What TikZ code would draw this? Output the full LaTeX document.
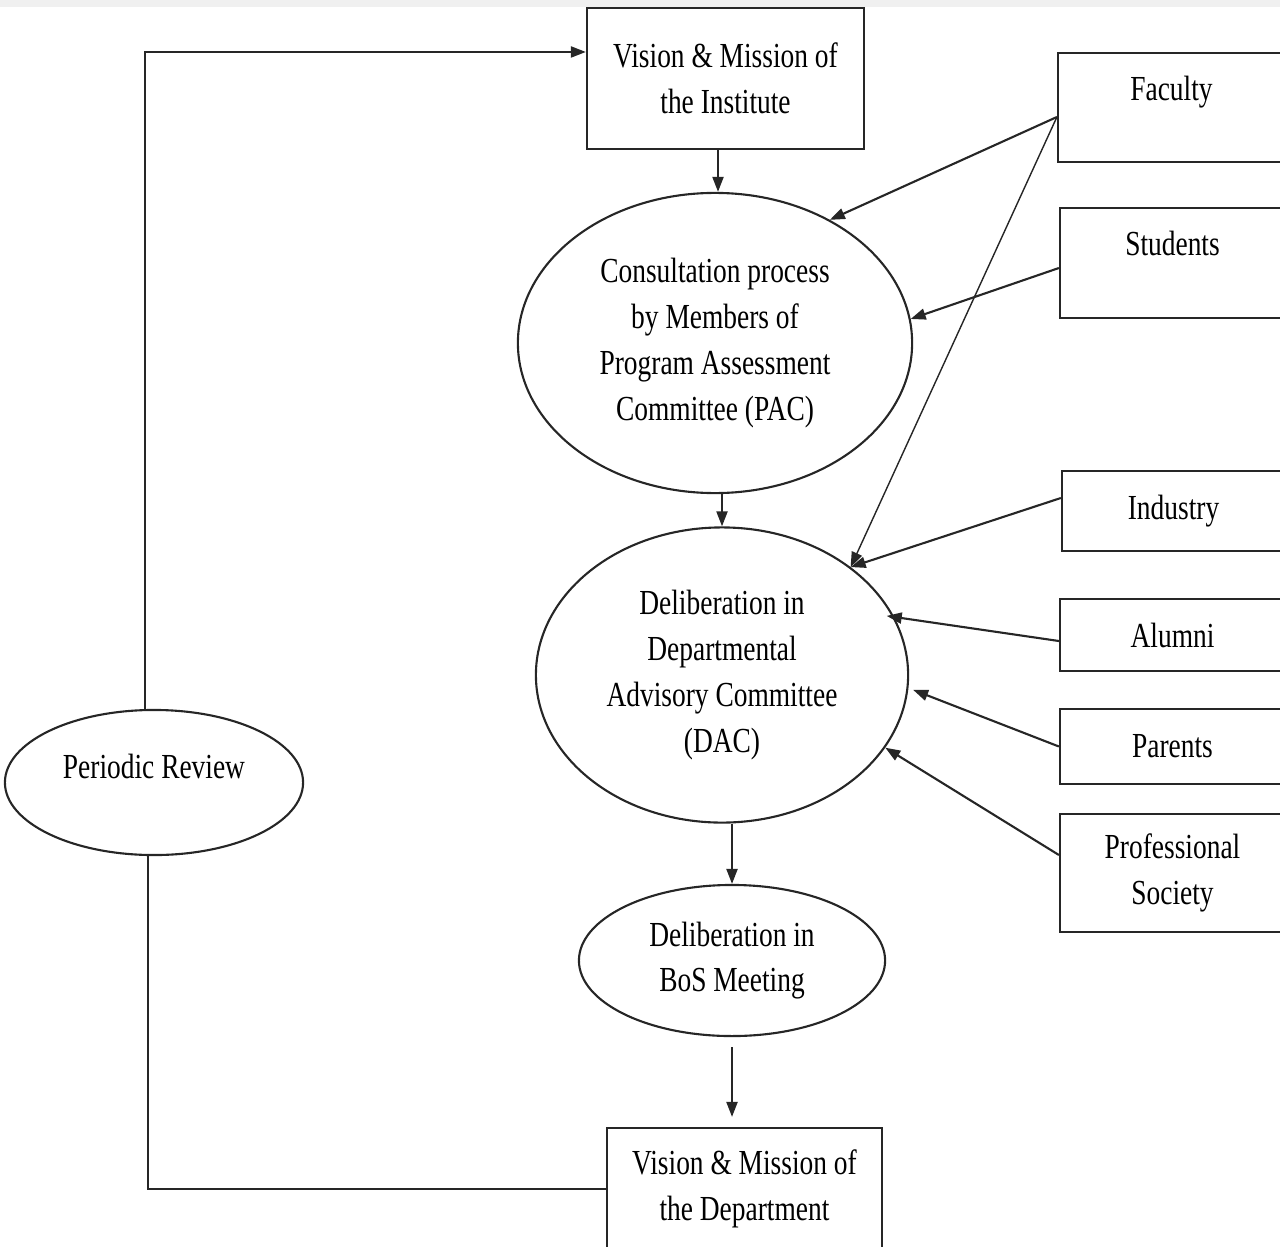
\documentclass[tikz,border=0pt]{standalone}
\usepackage{fontspec}
\setmainfont{Liberation Serif}[FakeStretch=0.78]
\usetikzlibrary{arrows.meta,shapes.geometric}
\begin{document}
\begin{tikzpicture}[x=0.01cm, y=-0.01cm, >={Triangle[length=0.15cm,width=0.11cm]},
every node/.style={font=\fontsize{10}{13}\selectfont, align=center, inner sep=0pt},
box/.style={draw=black!85, line width=0.6pt, rectangle},
oval/.style={draw=black!85, line width=0.6pt, ellipse},
arr/.style={->, line width=0.6pt, draw=black!85}]
\useasboundingbox (0,0) rectangle (1280,1246);
\clip (0,0) rectangle (1280,1246);
\fill[black!6] (0,0) rectangle (1280,7);
% main column
\node[box, minimum width=2.77cm, minimum height=1.41cm] (inst) at (725.5,78.5) {Vision \& Mission of\\the Institute};
\node[oval, minimum width=3.94cm, minimum height=3.0cm] (pac) at (715,343) {Consultation process\\by Members of\\Program Assessment\\Committee (PAC)};
\node[oval, minimum width=3.72cm, minimum height=2.95cm] (dac) at (722,675) {Deliberation in\\Departmental\\Advisory Committee\\(DAC)};
\node[oval, minimum width=3.06cm, minimum height=1.51cm] (bos) at (732,960.5) {Deliberation in\\BoS Meeting};
\node[box, minimum width=2.75cm, minimum height=1.22cm] (dept) at (744.5,1189) {Vision \& Mission of\\the Department};
\node[oval, minimum width=2.98cm, minimum height=1.45cm] (review) at (154,782.5) {Periodic Review\\[-4pt]~};
% stakeholders
\node[box, minimum width=2.27cm, minimum height=1.09cm] (faculty) at (1171.5,107.5) {Faculty\\[-2pt]~};
\node[box, minimum width=2.25cm, minimum height=1.10cm] (students) at (1172.5,263) {Students\\[-2pt]~};
\node[box, minimum width=2.23cm, minimum height=0.80cm] (industry) at (1173.5,511) {Industry};
\node[box, minimum width=2.25cm, minimum height=0.72cm] (alumni) at (1172.5,635) {Alumni};
\node[box, minimum width=2.25cm, minimum height=0.75cm] (parents) at (1172.5,746.5) {Parents};
\node[box, minimum width=2.25cm, minimum height=1.18cm] (prof) at (1172.5,873) {Professional\\Society};
% flow
\draw[arr] ([xshift=0.03cm]inst.south -| pac.north) -- ([xshift=0.03cm]pac.north);
\draw[arr] (pac.south -| dac.north) -- (dac.north);
\draw[arr] (dac.south -| bos.north) -- (bos.north);
\draw[arr, shorten <=0.1cm, shorten >=0.1cm] (bos.south) -- (bos.south |- dept.north);
\draw[arr] ([xshift=-0.09cm]review.north) |- ([yshift=0.265cm]inst.west);
\draw[line width=0.6pt, draw=black!85] ([xshift=-0.06cm]review.south) |- (dept.west);
% inputs
\draw[arr] ([yshift=-0.095cm]faculty.west) -- (pac.47);
\draw[arr, line width=0.4pt] ([yshift=-0.095cm]faculty.west) -- (dac.40);
\draw[arr] ([yshift=-0.05cm]students.west) -- (pac.7);
\draw[arr] ([yshift=0.13cm]industry.west) -- (dac.40);
\draw[arr] ([yshift=-0.06cm]alumni.west) -- ([xshift=-0.07cm]dac.19);
\draw[arr, shorten >=0.05cm] (parents.west) -- (dac.-4);
\draw[arr] ([yshift=0.18cm]prof.west) -- (dac.-24);
\end{tikzpicture}
\end{document}
